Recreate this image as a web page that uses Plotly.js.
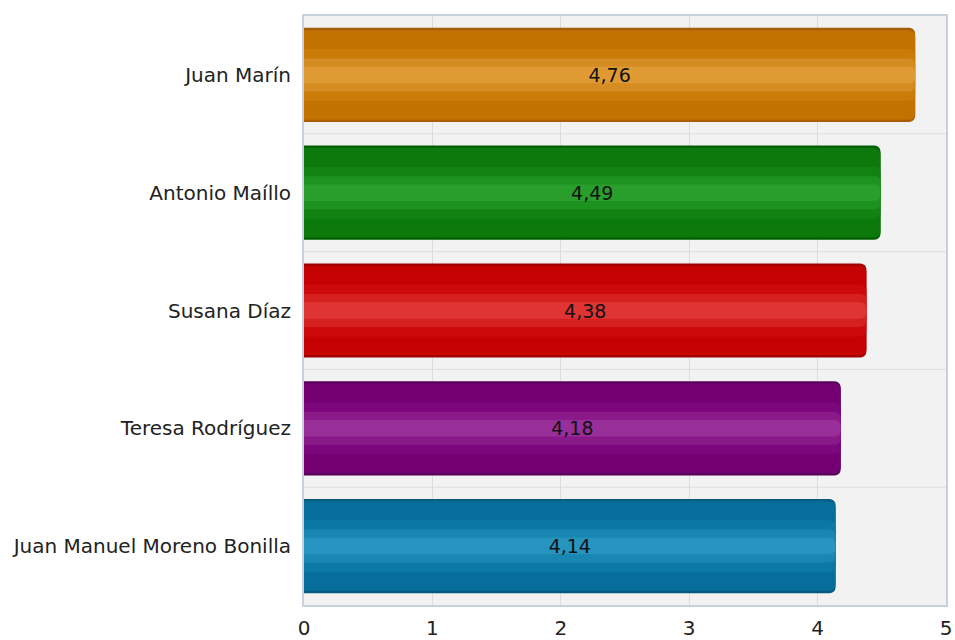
<!DOCTYPE html>
<html>
<head>
<meta charset="utf-8">
<script src="https://cdn.plot.ly/plotly-3.0.1.min.js"></script>
<style>html,body{margin:0;padding:0;background:#fff;}#chart{width:955px;height:640px;}</style>
</head>
<body>
<div id="chart"></div>
<script>
// Data (top to bottom)
const candidates = ["Juan Marín", "Antonio Maíllo", "Susana Díaz", "Teresa Rodríguez", "Juan Manuel Moreno Bonilla"];
const scores = [4.76, 4.49, 4.38, 4.18, 4.14];
const xTicks = [0, 1, 2, 3, 4, 5];

// Styles: shading layers (outer -> inner) per bar
const layerWidths = [0.8, 0.76, 0.44, 0.28, 0.14];
const layerColors = [
  ["#A85E00", "#005F00", "#A00000", "#5A005A", "#045A80"],
  ["#C27200", "#0B790B", "#C40202", "#720072", "#066E9A"],
  ["#CA7C08", "#128312", "#CC0A0A", "#7C067C", "#0C78A4"],
  ["#D58C22", "#1E921E", "#D62020", "#8A1A8A", "#1A86B2"],
  ["#DF9A34", "#2A9E2A", "#E03434", "#982E98", "#2894C0"]
];

const traces = layerWidths.map((w, k) => ({
  type: "bar", orientation: "h", x: scores, y: candidates, width: w,
  marker: {color: layerColors[k], line: {width: 0}},
  hoverinfo: "skip", showlegend: false
}));

// value labels on a transparent full-width layer
traces.push({
  type: "bar", orientation: "h", x: scores, y: candidates, width: 0.8,
  marker: {color: "rgba(0,0,0,0)", line: {width: 0}},
  hoverinfo: "skip", showlegend: false,
  texttemplate: "%{x:.2f}", textposition: "inside", insidetextanchor: "middle",
  constraintext: "none",
  textfont: {family: "DejaVu Sans, Verdana, sans-serif", size: 19, color: "#111"}
});

const shapes = [];
for (let i = 0; i < candidates.length - 1; i++) {
  shapes.push({type: "line", xref: "paper", yref: "y", x0: 0, x1: 1, y0: i + 0.5, y1: i + 0.5,
    line: {color: "#DCDCDC", width: 1}, layer: "below"});
}

const layout = {
  width: 955, height: 640,
  margin: {l: 304, r: 9, t: 16, b: 35, pad: 0},
  paper_bgcolor: "#ffffff", plot_bgcolor: "#F2F2F2",
  barmode: "overlay", barcornerradius: 6,
  separators: ",.",
  font: {family: "DejaVu Sans, Verdana, sans-serif", color: "#222"},
  shapes: shapes,
  xaxis: {
    range: [0, 5], tickvals: xTicks, ticktext: xTicks.map(String),
    showgrid: true, gridcolor: "#DCDCDC", gridwidth: 1, zeroline: false,
    showline: true, mirror: true, linecolor: "#C8D0DC", linewidth: 2,
    ticks: "", ticklabelstandoff: 4, tickfont: {size: 20, color: "#222"}, fixedrange: true
  },
  yaxis: {
    autorange: "reversed", showgrid: false, zeroline: false,
    showline: true, mirror: true, linecolor: "#C8D0DC", linewidth: 2,
    ticks: "", ticklabelstandoff: 7, tickfont: {size: 20, color: "#222"}, fixedrange: true
  }
};

Plotly.newPlot("chart", traces, layout, {displayModeBar: false, staticPlot: true});
</script>
</body>
</html>
